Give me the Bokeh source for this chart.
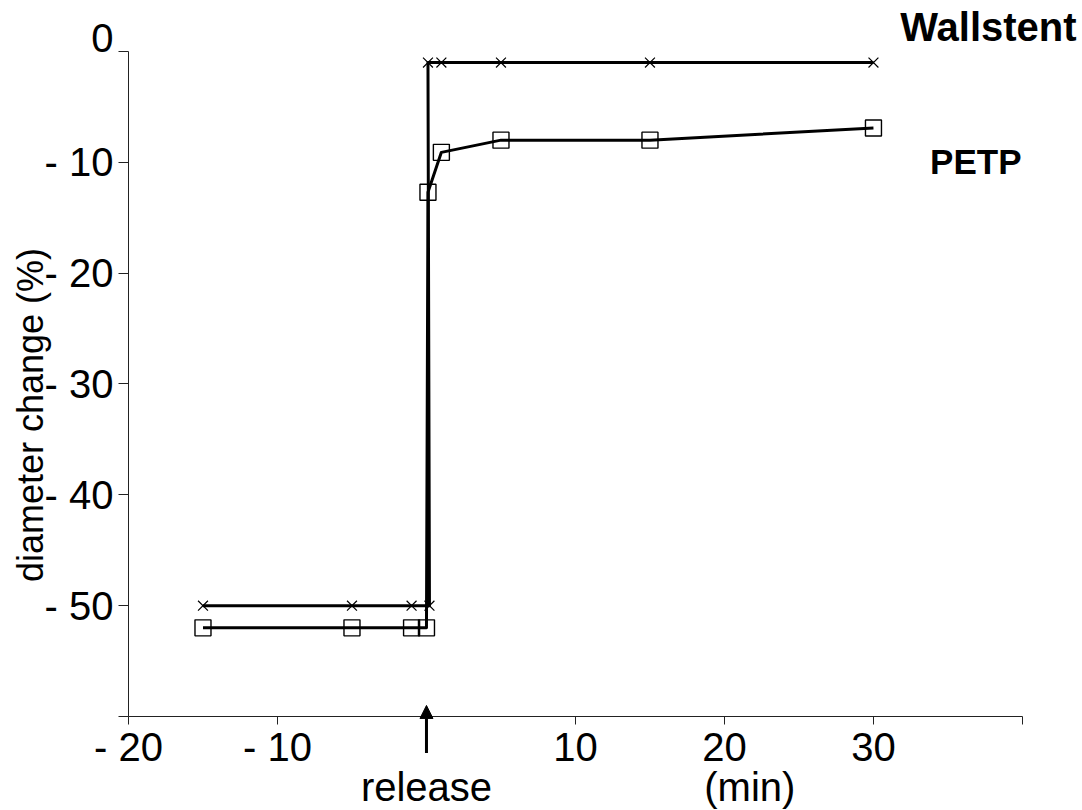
import math
from bokeh.plotting import figure
from bokeh.models import Label, Arrow, NormalHead, FixedTicker
from bokeh.embed import file_html
from bokeh.resources import INLINE

# ---- data ----
time_wall = [-15, -5, -1, 0.2, 0.1, 1, 5, 15, 30]
diam_wall = [-50, -50, -50, -50, -1, -1, -1, -1, -1]

time_petp = [-15, -5, -1, 0, 0.1, 1, 5, 15, 30]
diam_petp = [-52, -52, -52, -52, -12.7, -9.1, -8.0, -8.0, -6.9]

x_ticks = [-20, -10, 0, 10, 20, 30, 40]
x_tick_labels = ["- 20", "- 10", "", "10", "20", "30", ""]
y_ticks = [0, -10, -20, -30, -40, -50, -60]
y_tick_labels = ["", "- 10", "- 20", "- 30", "- 40", "- 50", ""]

FONT = "Liberation Sans"

p = figure(width=1082, height=810, output_backend="svg", toolbar_location=None,
           x_range=(-28.59, 44.03), y_range=(-68.48, 4.60),
           min_border_left=0, min_border_bottom=0, min_border_top=0,
           min_border_right=0)
p.outline_line_color = None
p.grid.visible = False
p.background_fill_color = "white"
p.border_fill_color = "white"

# axes drawn at fixed data locations inside the frame
p.xaxis.fixed_location = -60
p.yaxis.fixed_location = -20
p.xaxis.bounds = (-20, 40)
p.yaxis.bounds = (-60, 0)
p.xaxis.ticker = FixedTicker(ticks=x_ticks)
p.yaxis.ticker = FixedTicker(ticks=y_ticks)
p.xaxis.major_label_overrides = {t: l for t, l in zip(x_ticks, x_tick_labels)}
p.yaxis.major_label_overrides = {t: l for t, l in zip(y_ticks, y_tick_labels)}
for ax in (p.xaxis, p.yaxis):
    ax.axis_line_color = "#222222"
    ax.axis_line_width = 1
    ax.major_tick_line_color = "#222222"
    ax.major_tick_in = 0
    ax.minor_tick_line_color = None
    ax.major_label_text_font = FONT
    ax.major_label_text_font_size = "40px"
    ax.major_label_text_color = "black"
p.xaxis.major_tick_out = 8
p.xaxis.major_label_standoff = 0
p.yaxis.major_tick_out = 10
p.yaxis.major_label_standoff = 5

# top y tick label sits a little above its tick in the reference
p.add_layout(Label(x=-21.0, y=1.26, text="0", text_font=FONT, text_font_size="40px",
                   text_baseline="middle", text_align="right", text_color="black"))

# series
p.line(time_wall, diam_wall, line_color="black", line_width=3, line_join="round")
p.scatter(time_wall, diam_wall, marker="x", size=14, line_color="black", line_width=1.2)

p.line(time_petp, diam_petp, line_color="black", line_width=3, line_join="round")
p.scatter(time_petp, diam_petp, marker="square", size=16, fill_color=None,
          line_color="black", line_width=1.4)

# labels
p.add_layout(Label(x=31.8, y=2.17, text="Wallstent", text_font=FONT, text_font_size="40px",
                   text_font_style="bold", text_baseline="middle", text_align="left",
                   text_color="black"))
p.add_layout(Label(x=33.8, y=-9.93, text="PETP", text_font=FONT, text_font_size="35px",
                   text_font_style="bold", text_baseline="middle", text_align="left",
                   text_color="black"))
p.add_layout(Label(x=-26.6, y=-32.8, text="diameter change (%)", angle=math.pi / 2,
                   text_font=FONT, text_font_size="36px", text_baseline="middle",
                   text_align="center", text_color="black"))
p.add_layout(Label(x=0, y=-66.4, text="release", text_font=FONT, text_font_size="40px",
                   text_baseline="middle", text_align="center", text_color="black"))
p.add_layout(Label(x=21.7, y=-66.4, text="(min)", text_font=FONT, text_font_size="40px",
                   text_baseline="middle", text_align="center", text_color="black"))
p.add_layout(Arrow(end=NormalHead(size=13, fill_color="black", line_color="black"),
                   x_start=0, y_start=-63.3, x_end=0, y_end=-59.0,
                   line_width=3, line_color="black"))

open("out.html", "w").write(file_html(p, INLINE))
